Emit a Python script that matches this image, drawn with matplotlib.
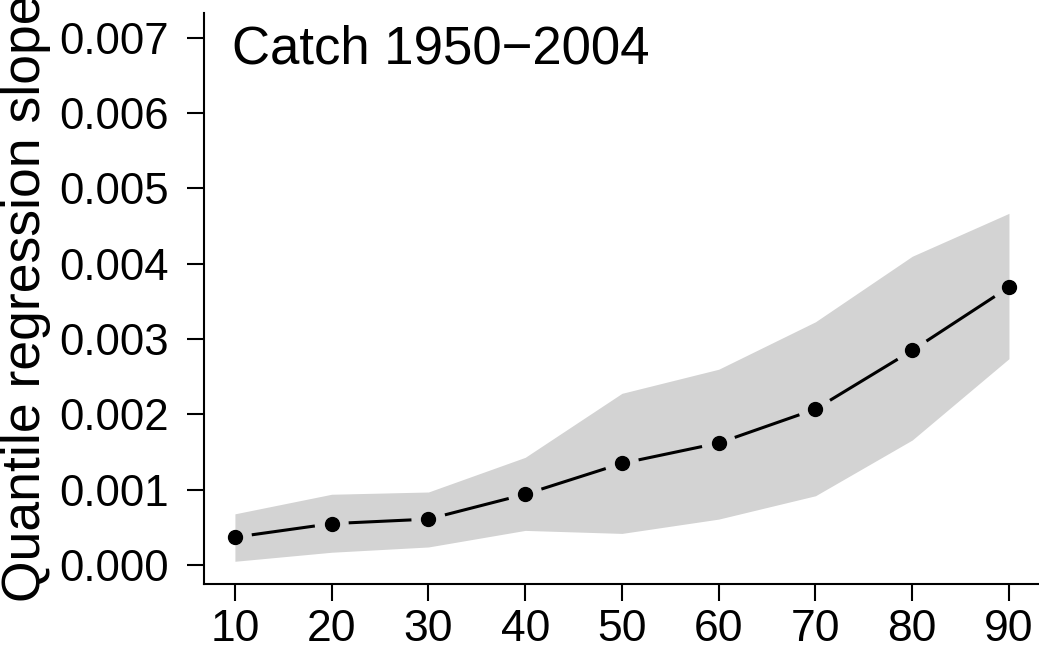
import numpy as np
import matplotlib.pyplot as plt

plt.rcParams['font.family'] = ['Liberation Sans', 'DejaVu Sans']

# quantiles (%) and regression slopes
quantiles = [10, 20, 30, 40, 50, 60, 70, 80, 90]
slope = [0.00037, 0.00055, 0.00061, 0.00094, 0.00135, 0.00162, 0.00207, 0.00285, 0.00369]
upper = [0.00068, 0.00094, 0.00097, 0.00143, 0.00228, 0.00260, 0.00323, 0.00410, 0.00467]
lower = [0.00005, 0.00017, 0.00024, 0.00046, 0.00042, 0.00061, 0.00092, 0.00166, 0.00274]
yticks = [0.000, 0.001, 0.002, 0.003, 0.004, 0.005, 0.006, 0.007]

fig = plt.figure(figsize=(10.39, 6.5), dpi=100)
ax = fig.add_axes([0.1963, 0.1015, 0.8046, 0.8785])

ax.set_xlim(6.8, 93.2)
ax.set_ylim(-0.000252, 0.00733)

# confidence band
ax.fill_between(quantiles, lower, upper, color='#D3D3D3', linewidth=0)

# R-style type="b": segments with a gap around each point
gap = 17  # pixels
pts = ax.transData.transform(np.column_stack([quantiles, slope]))
inv = ax.transData.inverted()
for p0, p1 in zip(pts[:-1], pts[1:]):
    d = p1 - p0
    u = d / np.hypot(*d)
    a = inv.transform(p0 + u * gap)
    b = inv.transform(p1 - u * gap)
    ax.plot([a[0], b[0]], [a[1], b[1]], color='black', lw=2.2, solid_capstyle='butt')
ax.plot(quantiles, slope, 'o', color='black', markersize=10)

ax.text(0.033, 0.98, 'Catch 1950\u22122004', transform=ax.transAxes,
        fontsize=38, va='top', ha='left')

ax.set_xticks(quantiles)
ax.set_yticks(yticks)
ax.set_yticklabels([f'{v:.3f}' for v in yticks])
ax.set_ylabel('Quantile regression slope', fontsize=38.5)
ax.yaxis.set_label_coords(-0.183, 0.5)

for s in ['top', 'right']:
    ax.spines[s].set_visible(False)
for s in ['left', 'bottom']:
    ax.spines[s].set_linewidth(1.5)
ax.tick_params(axis='both', length=12, width=1.5)
ax.tick_params(axis='y', labelsize=31.5, pad=13)
ax.tick_params(axis='x', labelsize=32, pad=6)

fig.savefig('out.png', dpi=100)
